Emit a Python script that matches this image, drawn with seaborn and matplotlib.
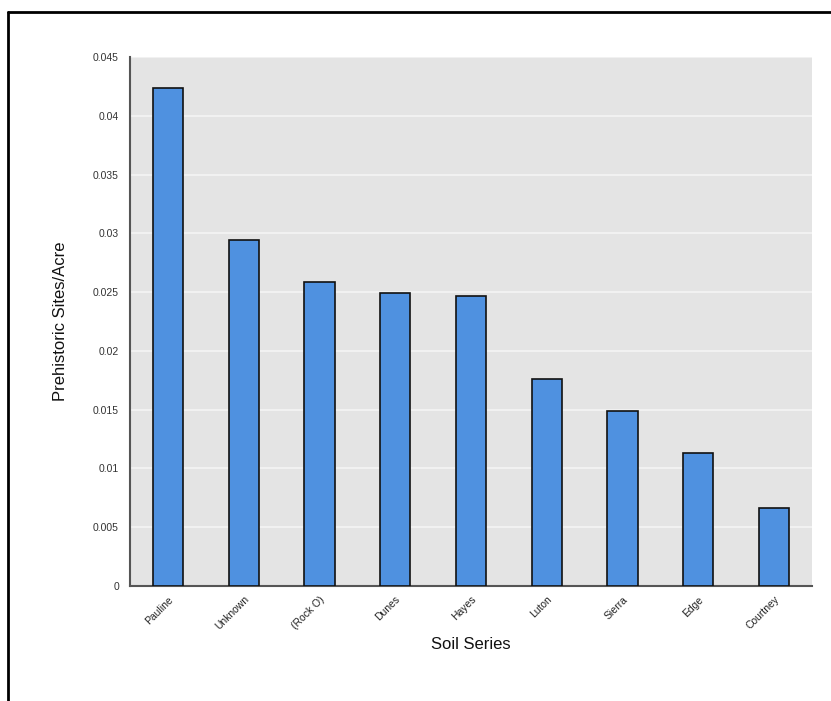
import matplotlib
matplotlib.use("Agg")
import matplotlib.pyplot as plt
from matplotlib.lines import Line2D
import seaborn as sns
import pandas as pd

soils = ["Pauline", "Unknown", "(Rock O)", "Dunes", "Hayes", "Luton", "Sierra", "Edge", "Courtney"]
sites_per_acre = [0.0424, 0.0294, 0.0259, 0.0249, 0.0247, 0.0176, 0.0149, 0.0113, 0.0066]
y_ticks = [0, 0.005, 0.01, 0.015, 0.02, 0.025, 0.03, 0.035, 0.04, 0.045]
y_tick_labels = ["0", "0.005", "0.01", "0.015", "0.02", "0.025", "0.03", "0.035", "0.04", "0.045"]

df = pd.DataFrame({"soil": soils, "value": sites_per_acre})

sns.set_theme(style="white")
plt.rcParams["font.family"] = ["Liberation Sans", "DejaVu Sans"]

W, H = 831, 701
fig = plt.figure(figsize=(W / 100, H / 100), dpi=100)
ax = fig.add_axes([130 / W, 1 - 586 / H, (812 - 130) / W, (586 - 57) / H])
ax.set_facecolor("#e4e4e4")

sns.barplot(data=df, x="soil", y="value", ax=ax, color="#4f91e0",
            saturation=1, width=0.4, edgecolor="#111111", linewidth=1.2, zorder=3)

ax.set_ylim(0, 0.045)
ax.set_xlim(-0.5, len(soils) - 0.5)
ax.set_yticks(y_ticks)
ax.set_yticklabels(y_tick_labels, fontsize=7.5, color="#333333")
ax.yaxis.grid(True, color="#f4f4f4", linewidth=1.2, zorder=0)
ax.set_axisbelow(True)

ax.set_xticks([i + 0.5 for i in range(-1, len(soils))], minor=True)
ax.set_xticks(range(len(soils)))
ax.set_xticklabels(soils, rotation=45, ha="right", rotation_mode="anchor",
                   fontsize=7.5, color="#222222")
ax.tick_params(axis="x", which="major", length=0, pad=6)
ax.tick_params(axis="x", which="minor", length=5, color="#333333", width=1)
ax.tick_params(axis="y", length=4, color="#aaaaaa", width=1, pad=4)

for side in ["top", "right"]:
    ax.spines[side].set_visible(False)
for side in ["left", "bottom"]:
    ax.spines[side].set_color("#555555")
    ax.spines[side].set_linewidth(1.5)

ax.set_xlabel("Soil Series", fontsize=12, color="#111111", labelpad=4)
ax.set_ylabel("Prehistoric Sites/Acre", fontsize=12, color="#111111", labelpad=18)

# outer border (frame partially cropped)
fig.add_artist(Line2D([8 / W, 1.0], [1 - 12 / H, 1 - 12 / H], color="black", linewidth=2, transform=fig.transFigure))
fig.add_artist(Line2D([8 / W, 8 / W], [0.0, 1 - 12 / H], color="black", linewidth=2, transform=fig.transFigure))

fig.savefig("out.png", dpi=100)
